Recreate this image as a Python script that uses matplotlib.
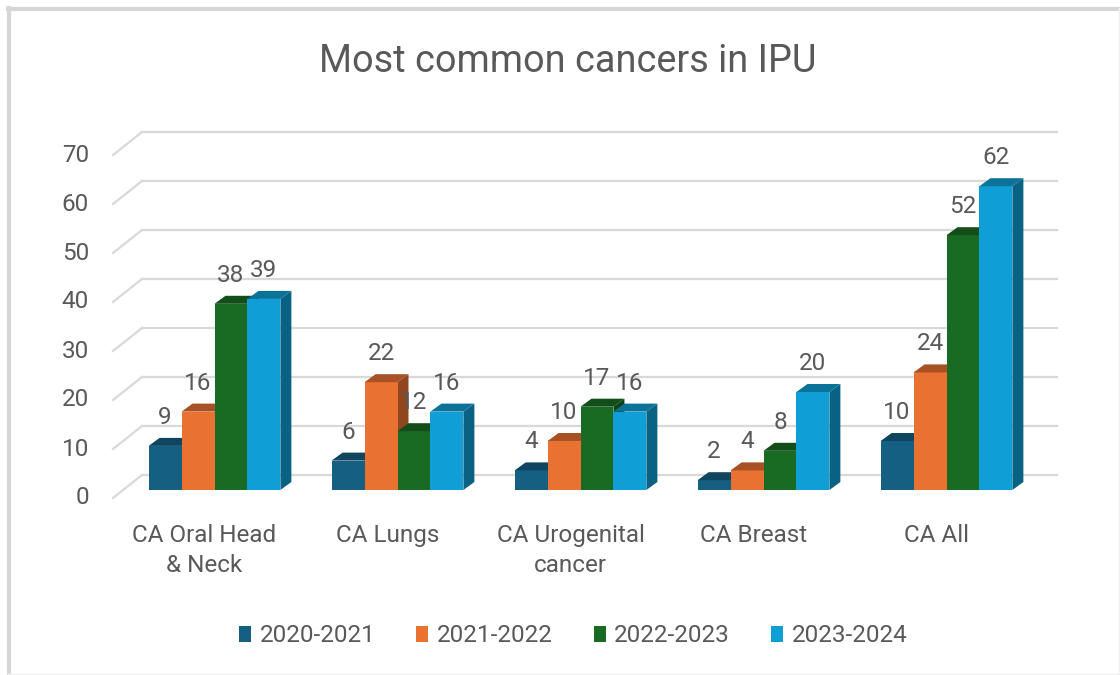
import numpy as np
import matplotlib
matplotlib.use("Agg")
import matplotlib.pyplot as plt
from matplotlib.patches import Polygon, Patch
from matplotlib.lines import Line2D
from matplotlib.colors import to_rgb

plt.rcParams['font.family'] = ['Roboto', 'DejaVu Sans']

categories = ["CA Oral Head\n& Neck", "CA Lungs", "CA Urogenital\ncancer", "CA Breast", "CA All"]
series_names = ["2020-2021", "2021-2022", "2022-2023", "2023-2024"]
v2020 = [9, 6, 4, 2, 10]
v2021 = [16, 22, 10, 4, 24]
v2022 = [38, 12, 17, 8, 52]
v2023 = [39, 16, 16, 20, 62]
series_values = [v2020, v2021, v2022, v2023]
colors = ["#156082", "#E97132", "#196B24", "#0F9ED5"]
yticks = [0, 10, 20, 30, 40, 50, 60, 70]
title = "Most common cancers in IPU"

TXT = "#595959"
GRID = "#d9d9d9"
FS = 17.5

fig = plt.figure(figsize=(11.2, 6.75), dpi=100)
W, H = 1120, 675
ax = fig.add_axes([123 / W, (H - 490) / H, 915 / W, (490 - 147) / H])
ax.set_xlim(-0.5, len(categories) - 0.5)
ax.set_ylim(0, 70)
ax.axis('off')


def shift(x, y, dxp, dyp):
    p = ax.transData.transform((x, y)) + np.array([dxp, dyp])
    return tuple(ax.transData.inverted().transform(p))


def shade(c, f):
    r, g, b = to_rgb(c)
    return (r * f, g * f, b * f)


# depth offsets (pixels)
BAR_D = (11, 8)
BACK = (19, 15)
FRONT = (-10, -8)

x0, x1 = ax.get_xlim()
for t in yticks:
    a = shift(x0, t, *BACK)
    b = shift(x1, t, *BACK)
    c = shift(x0, t, *FRONT)
    ax.add_line(Line2D([a[0], b[0]], [a[1], b[1]], color=GRID, lw=1.6, zorder=1, clip_on=False))
    ax.add_line(Line2D([c[0], a[0]], [c[1], a[1]], color=GRID, lw=1.6, zorder=1, clip_on=False))
    lp = shift(x0, t, FRONT[0] - 24, FRONT[1])
    ax.text(lp[0], lp[1], str(t), ha='right', va='center', fontsize=FS, color=TXT, clip_on=False)

n = len(series_values)
w = 0.18
z = 2
for i in range(len(categories)):
    for j in range(n):
        v = series_values[j][i]
        col = colors[j]
        xl = i + (j - n / 2) * w
        xr = xl + w
        side = [(xr, 0), (xr, v), shift(xr, v, *BAR_D), shift(xr, 0, *BAR_D)]
        ax.add_patch(Polygon(side, closed=True, facecolor=shade(col, 0.62), edgecolor='none', zorder=z, clip_on=False))
        front = [(xl, 0), (xr, 0), (xr, v), (xl, v)]
        ax.add_patch(Polygon(front, closed=True, facecolor=col, edgecolor='none', zorder=z + 0.1, clip_on=False))
        top = [(xl, v), (xr, v), shift(xr, v, *BAR_D), shift(xl, v, *BAR_D)]
        ax.add_patch(Polygon(top, closed=True, facecolor=shade(col, 0.72), edgecolor='none', zorder=z + 0.2, clip_on=False))
        z += 1
        ax.annotate(str(v), (xl + w / 2, v), xytext=(0, 20.5), textcoords='offset points',
                    ha='center', va='center', fontsize=FS, color=TXT, zorder=100)

for i, cat in enumerate(categories):
    p = shift(i, 0, FRONT[0], FRONT[1] - 26)
    ax.text(p[0], p[1], cat, ha='center', va='top', fontsize=FS, color=TXT,
            linespacing=1.4, clip_on=False)

fig.text(568 / W, 1 - 62 / H, title, ha='center', va='center', fontsize=27.3, color=TXT)

handles = [Patch(facecolor=c, edgecolor='none') for c in colors]
fig.legend(handles, series_names, loc='center', bbox_to_anchor=(573 / W, 1 - 636 / H), ncol=4,
           frameon=False, fontsize=FS, handlelength=0.5, handleheight=0.65,
           handletextpad=0.35, columnspacing=1.68, labelcolor=TXT)

# chart border
fig.add_artist(Line2D([8 / W, 1], [1 - 8.5 / H, 1 - 8.5 / H], transform=fig.transFigure, color="#d6d6d6", lw=3))
fig.add_artist(Line2D([8.5 / W, 8.5 / W], [0, 1 - 8 / H], transform=fig.transFigure, color="#d6d6d6", lw=3))
fig.add_artist(Line2D([1118.5 / W, 1118.5 / W], [0, 1 - 8 / H], transform=fig.transFigure, color="#f0f0f0", lw=1))
fig.add_artist(Line2D([8 / W, 1], [0.7 / H, 0.7 / H], transform=fig.transFigure, color="#f0f0f0", lw=1))

fig.savefig("out.png", dpi=100)
